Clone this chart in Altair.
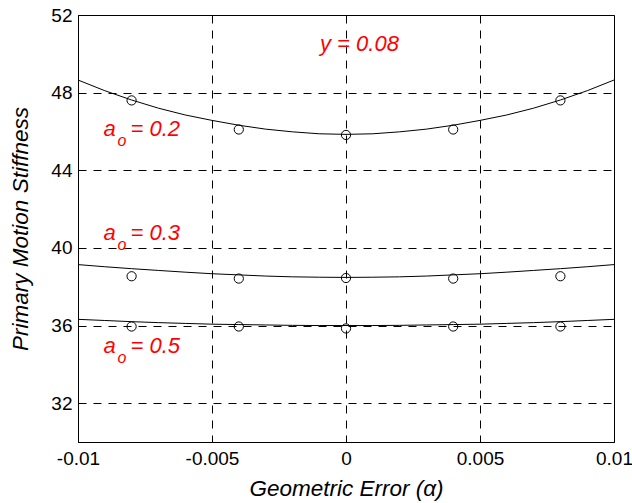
import altair as alt
import pandas as pd

# Geometric error values (alpha)
curve_x = [-0.010, -0.009, -0.008, -0.007, -0.006, -0.005, -0.004, -0.003, -0.002, -0.001,
           0.000, 0.001, 0.002, 0.003, 0.004, 0.005, 0.006, 0.007, 0.008, 0.009, 0.010]
# Fitted stiffness curves for each a_o
curve_a02 = [48.65, 48.10, 47.62, 47.20, 46.85, 46.57, 46.32, 46.12, 45.98, 45.88,
             45.85, 45.88, 45.98, 46.12, 46.32, 46.57, 46.85, 47.20, 47.62, 48.10, 48.65]
curve_a03 = [39.14, 39.03, 38.93, 38.84, 38.75, 38.67, 38.61, 38.55, 38.51, 38.49,
             38.48, 38.49, 38.51, 38.55, 38.61, 38.67, 38.75, 38.84, 38.93, 39.03, 39.14]
curve_a05 = [36.32, 36.26, 36.20, 36.15, 36.11, 36.07, 36.05, 36.03, 36.01, 36.00,
             36.00, 36.00, 36.01, 36.03, 36.05, 36.07, 36.11, 36.15, 36.20, 36.26, 36.32]

# Computed samples (circles)
point_x = [-0.008, -0.004, 0.0, 0.004, 0.008]
point_a02 = [47.60, 46.10, 45.82, 46.10, 47.60]
point_a03 = [38.54, 38.42, 38.45, 38.42, 38.54]
point_a05 = [35.95, 35.95, 35.85, 35.95, 35.95]

# Axis ticks
x_ticks = [-0.01, -0.005, 0.0, 0.005, 0.01]
x_tick_labels = ["-0.01", "-0.005", "0", "0.005", "0.01"]
y_ticks = [32, 36, 40, 44, 48, 52]

# Annotations
ao_values = ["0.2", "0.3", "0.5"]
ao_x = [-0.00905, -0.00905, -0.00905]
ao_y = [45.77, 40.42, 34.59]
y_note_x = [-0.00097]
y_note_y = [50.15]
y_note_text = ["y = 0.08"]

FONT = "Liberation Sans"

curves = pd.concat([
    pd.DataFrame({"x": curve_x, "y": curve_a02, "s": "0.2"}),
    pd.DataFrame({"x": curve_x, "y": curve_a03, "s": "0.3"}),
    pd.DataFrame({"x": curve_x, "y": curve_a05, "s": "0.5"}),
])
points = pd.concat([
    pd.DataFrame({"x": point_x, "y": point_a02}),
    pd.DataFrame({"x": point_x, "y": point_a03}),
    pd.DataFrame({"x": point_x, "y": point_a05}),
])
ao_df = pd.DataFrame({"x": ao_x, "y": ao_y, "a": "a", "o": "o",
                      "rest": ["= " + v for v in ao_values]})
note_df = pd.DataFrame({"x": y_note_x, "y": y_note_y, "t": y_note_text})

label_expr = " : ".join(
    f"datum.value == {v} ? '{t}'" for v, t in zip(x_ticks, x_tick_labels)
) + " : ''"

x_scale = alt.Scale(domain=[-0.01, 0.01], nice=False, zero=False)
y_scale = alt.Scale(domain=[30, 52], nice=False, zero=False)

x_axis = alt.Axis(values=x_ticks, labelExpr=label_expr, title="Geometric Error (α)",
                  grid=True, gridDash=[8, 7], gridColor="#000000", gridOpacity=1,
                  ticks=False, domainColor="#000000", labelFlush=False,
                  labelFont=FONT, labelFontSize=19, labelColor="#000000", labelPadding=7,
                  titleFont=FONT, titleFontSize=22.5, titleFontStyle="italic",
                  titleFontWeight="normal", titleColor="#000000", titlePadding=9)
y_axis = alt.Axis(values=y_ticks, title="Primary Motion Stiffness",
                  grid=True, gridDash=[8, 7], gridColor="#000000", gridOpacity=1,
                  ticks=False, domainColor="#000000", labelFlush=False,
                  labelFont=FONT, labelFontSize=19, labelColor="#000000", labelPadding=6,
                  titleFont=FONT, titleFontSize=22.5, titleFontStyle="italic",
                  titleFontWeight="normal", titleColor="#000000", titlePadding=18)

lines = alt.Chart(curves).mark_line(color="#000000", strokeWidth=1).encode(
    x=alt.X("x:Q", scale=x_scale, axis=x_axis),
    y=alt.Y("y:Q", scale=y_scale, axis=y_axis),
    detail="s:N",
)

circles = alt.Chart(points).mark_point(shape="circle", filled=False, color="#000000",
                                       strokeWidth=1, size=85, opacity=1).encode(
    x=alt.X("x:Q", scale=x_scale),
    y=alt.Y("y:Q", scale=y_scale),
)

text_style = dict(align="left", baseline="alphabetic", font=FONT, fontStyle="italic",
                  color="#ff0000")

a_text = alt.Chart(ao_df).mark_text(fontSize=22, **text_style).encode(
    x=alt.X("x:Q", scale=x_scale), y=alt.Y("y:Q", scale=y_scale), text="a:N")
o_text = alt.Chart(ao_df).mark_text(fontSize=16, dx=14, dy=10, **text_style).encode(
    x=alt.X("x:Q", scale=x_scale), y=alt.Y("y:Q", scale=y_scale), text="o:N")
rest_text = alt.Chart(ao_df).mark_text(fontSize=22, dx=27, **text_style).encode(
    x=alt.X("x:Q", scale=x_scale), y=alt.Y("y:Q", scale=y_scale), text="rest:N")
note_text = alt.Chart(note_df).mark_text(fontSize=22, **text_style).encode(
    x=alt.X("x:Q", scale=x_scale), y=alt.Y("y:Q", scale=y_scale), text="t:N")

chart = alt.layer(lines, circles, a_text, o_text, rest_text, note_text).properties(
    width=536, height=427,
    autosize=alt.AutoSizeParams(type="none"),
    padding={"left": 78, "top": 15, "right": 18, "bottom": 61},
    background="#ffffff",
).configure_view(stroke="#000000", strokeWidth=1)

chart.save("out.html", embed_options={"renderer": "svg", "actions": False})
